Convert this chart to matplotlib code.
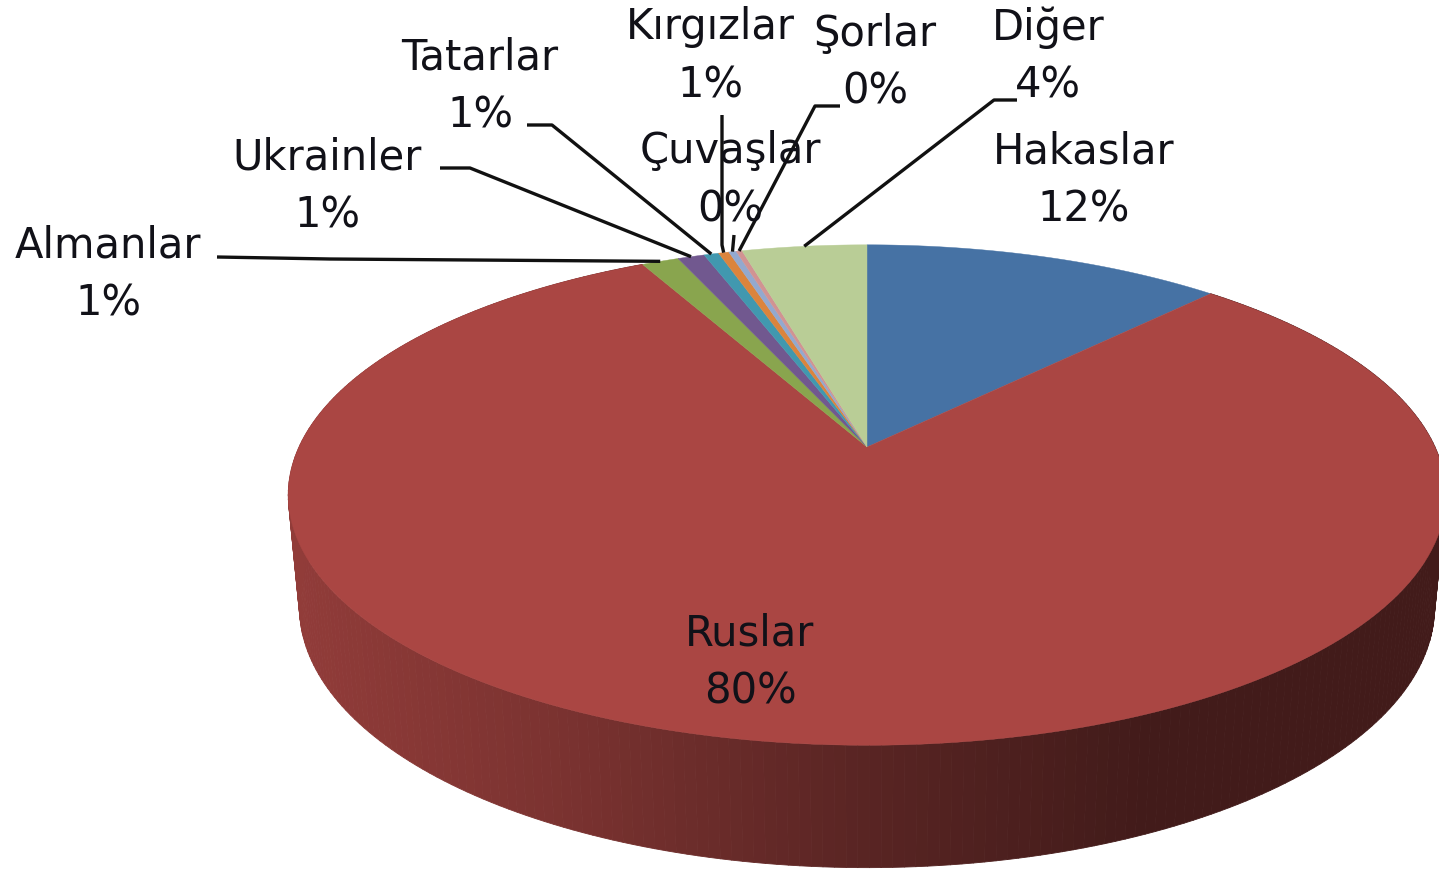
"""
3D style pie chart of ethnic groups, drawn with a perspective projection.
"""

import numpy as np
import matplotlib
matplotlib.use('Agg')
import matplotlib.pyplot as plt
from matplotlib.collections import PolyCollection

GROUPS = ['Hakaslar', 'Ruslar', 'Almanlar', 'Ukrainler', 'Tatarlar',
          'Kırgızlar', 'Çuvaşlar', 'Şorlar', 'Diğer']
VALUES = [12.1, 80.25, 1.25, 0.9, 0.5, 0.35, 0.25, 0.2, 4.2]
PERCENTS = ['12%', '80%', '1%', '1%', '1%', '1%', '0%', '0%', '4%']
COLORS = ['#4672A4', '#AA4643', '#89A54E', '#71588F', '#4198AF',
          '#DB843D', '#93A9CF', '#D19392', '#B9CD96']

# label centre (name line) in pixels
LABEL_POS = [(1084, 151), (750, 633), (108, 246), (327, 158), (480, 57),
             (710, 27), (730, 151), (875, 34), (1048, 28)]
# leader line points from label side, None = no leader
KNEES = [None, None,
         [(217, 257), (330, 259)],
         [(440, 168), (470, 168)],
         [(527, 125), (552, 125)],
         [(722, 115), (722, 245)],
         [(734, 235)],
         [(840, 106), (815, 106)],
         [(1017, 100), (994, 100)]]

CX, CY = 867, 447
A, B, P = 568, 241, 0.192
A2, B2, DY = 557, 251, 110


def project(t, r=1.0, a=A, b=B, dy=0):
    # t in radians clockwise from the top
    x = r * np.sin(t)
    y = r * np.cos(t)
    w = 1 + P * y
    return CX + a * x / w, CY + dy - b * y / w


def shade(color, px):
    f = np.interp(px, [300, 560, 870, 1140], [0.85, 0.72, 0.52, 0.39])
    return tuple(c * f for c in matplotlib.colors.to_rgb(color))


fig = plt.figure(figsize=(14.39, 8.73), dpi=100)
ax = fig.add_axes([0, 0, 1, 1])
ax.set_xlim(0, 1439)
ax.set_ylim(873, 0)
ax.axis('off')

edges = np.radians(np.cumsum([0] + VALUES) / sum(VALUES) * 360)

# side wall of the big slice, thin strips so the shade can change
t0, t1 = edges[1], edges[2]
ts = np.linspace(t0, t1, 300)
quads, cols = [], []
for s, e in zip(ts[:-1], ts[1:]):
    xa, ya = project(s)
    xb, yb = project(e)
    xc, yc = project(e, a=A2, b=B2, dy=DY)
    xd, yd = project(s, a=A2, b=B2, dy=DY)
    quads.append([(xa, ya), (xb, yb), (xc, yc), (xd, yd)])
    cols.append(shade(COLORS[1], (xa + xb) / 2))
ax.add_collection(PolyCollection(quads, facecolors=cols, edgecolors=cols,
                                 linewidths=0.6, zorder=1))

# top face
for i, color in enumerate(COLORS):
    t = np.linspace(edges[i], edges[i + 1], 200)
    x, y = project(t)
    ax.fill(np.r_[CX, x], np.r_[CY, y], color=color, lw=0.3, zorder=2)

# leader lines end on the middle of the rim arc of each slice
for i, knee in enumerate(KNEES):
    if knee is None:
        continue
    ex, ey = project((edges[i] + edges[i + 1]) / 2)
    xs = [k[0] for k in knee] + [float(ex)]
    ys = [k[1] for k in knee] + [float(ey)]
    ax.plot(xs, ys, color='#111111', lw=2.4, zorder=3, solid_capstyle='butt')

# labels
for name, pct, (lx, ly) in zip(GROUPS, PERCENTS, LABEL_POS):
    ax.text(lx, ly, name, ha='center', va='center', fontsize=30,
            family='DejaVu Sans', color='#111118', zorder=4)
    ax.text(lx, ly + 58, pct, ha='center', va='center', fontsize=30,
            family='DejaVu Sans', color='#111118', zorder=4)

fig.savefig('out.png', dpi=100)
